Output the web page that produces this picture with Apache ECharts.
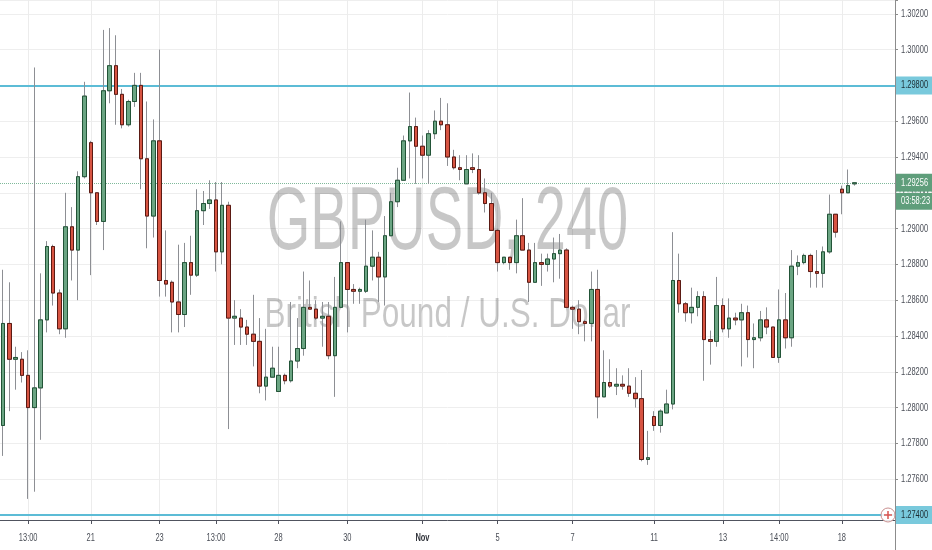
<!DOCTYPE html>
<html><head><meta charset="utf-8">
<script src="https://cdn.jsdelivr.net/npm/echarts@6/dist/echarts.min.js"></script>
<style>html,body{margin:0;padding:0;background:#fff}#c{width:932px;height:550px}</style>
</head><body><div id="c"></div>
<script>
// ---- data (GBPUSD, 4h candles) ----
const opens = [1.2790,1.2847,1.2827,1.2827,1.2818,1.2800,1.2811,1.2849,1.2890,1.2864,
1.2844,1.2901,1.2888,1.2929,1.2948,1.2920,1.2904,1.2977,1.2991,1.2975,
1.2958,1.2971,1.2980,1.2939,1.2907,1.2949,1.2871,1.2870,1.2859,1.2852,
1.2881,1.2874,1.2910,1.2914,1.2916,1.2887,1.2913,1.2850,1.2850,1.2845,
1.2841,1.2837,1.2812,1.2817,1.2809,1.2818,1.2815,1.2826,1.2833,1.2856,
1.2855,1.2850,1.2851,1.2829,1.2856,1.2881,1.2866,1.2865,1.2865,1.2879,
1.2884,1.2873,1.2896,1.2915,1.2927,1.2949,1.2957,1.2946,1.2941,1.2953,
1.2960,1.2958,1.2940,1.2934,1.2925,1.2934,1.2933,1.2920,1.2914,1.2899,
1.2881,1.2884,1.2881,1.2896,1.2888,1.2870,1.2881,1.2880,1.2883,1.2886,
1.2888,1.2856,1.2855,1.2848,1.2847,1.2866,1.2806,1.2814,1.2812,1.2813,
1.2812,1.2808,1.2805,1.2771,1.2795,1.2790,1.2797,1.2802,1.2871,1.2858,
1.2853,1.2856,1.2862,1.2838,1.2837,1.2857,1.2844,1.2850,1.2849,1.2853,
1.2838,1.2839,1.2849,1.2845,1.2828,1.2849,1.2839,1.2879,1.2881,1.2885,
1.2876,1.2875,1.2887,1.2908,1.2922,1.2920,1.2925];
const closes = [1.2847,1.2827,1.2828,1.2818,1.2800,1.2811,1.2849,1.2890,1.2864,1.2844,
1.2901,1.2888,1.2929,1.2974,1.2920,1.2904,1.2977,1.2991,1.2975,1.2958,
1.2971,1.2980,1.2939,1.2907,1.2949,1.2871,1.2869,1.2859,1.2852,1.2881,
1.2874,1.2910,1.2914,1.2916,1.2887,1.2913,1.2850,1.2851,1.2845,1.2841,
1.2837,1.2812,1.2817,1.2822,1.2818,1.2815,1.2826,1.2833,1.2856,1.2855,
1.2850,1.2851,1.2829,1.2856,1.2881,1.2866,1.2865,1.2866,1.2879,1.2884,
1.2873,1.2896,1.2915,1.2927,1.2949,1.2957,1.2946,1.2941,1.2953,1.2960,
1.2958,1.2940,1.2934,1.2933,1.2933,1.2933,1.2920,1.2914,1.2899,1.2881,
1.2884,1.2881,1.2896,1.2888,1.2870,1.2881,1.2880,1.2883,1.2886,1.2888,
1.2856,1.2855,1.2848,1.2847,1.2866,1.2806,1.2814,1.2812,1.2813,1.2812,
1.2808,1.2805,1.2771,1.2772,1.2790,1.2798,1.2802,1.2871,1.2858,1.2853,
1.2856,1.2862,1.2838,1.2837,1.2857,1.2844,1.2850,1.2849,1.2853,1.2838,
1.2839,1.2849,1.2845,1.2828,1.2849,1.2839,1.2879,1.2881,1.2885,1.2876,
1.2875,1.2887,1.2908,1.2898,1.2920,1.2924,1.29256];
const lows = [1.2773,1.2798,1.2810,1.2814,1.2749,1.2753,1.2782,1.2842,1.2857,1.2841,
1.2839,1.2871,1.2860,1.2928,1.2874,1.2902,1.2888,1.2970,1.2958,1.2956,
1.2957,1.2968,1.2922,1.2889,1.2895,1.2862,1.2862,1.2842,1.2842,1.2845,
1.2863,1.2873,1.2902,1.2911,1.2876,1.2880,1.2788,1.2835,1.2835,1.2835,
1.2823,1.2808,1.2804,1.2817,1.2809,1.2813,1.2814,1.2822,1.2829,1.2855,
1.2849,1.2834,1.2827,1.2806,1.2856,1.2842,1.2858,1.2858,1.2864,1.2871,
1.2859,1.2857,1.2896,1.2912,1.2927,1.2928,1.2925,1.2928,1.2925,1.2950,
1.2955,1.2935,1.2933,1.2927,1.2925,1.2931,1.2919,1.2909,1.2899,1.2876,
1.2880,1.2877,1.2875,1.2888,1.2859,1.2870,1.2868,1.2876,1.2870,1.2872,
1.2856,1.2844,1.2841,1.2837,1.2837,1.2794,1.2806,1.2811,1.2807,1.2810,
1.2806,1.2800,1.2770,1.2768,1.2787,1.2786,1.2797,1.2799,1.2853,1.2848,
1.2847,1.2851,1.2815,1.2824,1.2834,1.2842,1.2839,1.2846,1.2823,1.2828,
1.2822,1.2837,1.2841,1.2828,1.2825,1.2833,1.2834,1.2874,1.2880,1.2867,
1.2867,1.2867,1.2886,1.2895,1.2908,1.2920,1.2924];
const highs = [1.2877,1.2870,1.2834,1.2831,1.2832,1.2990,1.2875,1.2893,1.2891,1.2866,
1.2920,1.2912,1.2932,1.2982,1.2949,1.2920,1.3011,1.3012,1.3008,1.2978,
1.2972,1.2987,1.2987,1.2971,1.2961,1.3000,1.2899,1.2871,1.2891,1.2892,
1.2896,1.2922,1.2921,1.2927,1.2926,1.2926,1.2915,1.2860,1.2855,1.2849,
1.2863,1.2850,1.2844,1.2834,1.2834,1.2819,1.2859,1.2850,1.2876,1.2871,
1.2860,1.2859,1.2859,1.2873,1.2904,1.2881,1.2869,1.2867,1.2905,1.2899,
1.2887,1.2907,1.2920,1.2934,1.2952,1.2976,1.2962,1.2952,1.2955,1.2966,
1.2973,1.2970,1.2944,1.2941,1.2941,1.2942,1.2941,1.2928,1.2920,1.2900,
1.2884,1.2884,1.2905,1.2917,1.2892,1.2892,1.2886,1.2886,1.2895,1.2897,
1.2889,1.2857,1.2860,1.2849,1.2876,1.2877,1.2832,1.2827,1.2822,1.2818,
1.2822,1.2817,1.2821,1.2787,1.2798,1.2799,1.2810,1.2898,1.2886,1.2859,
1.2867,1.2865,1.2865,1.2843,1.2873,1.2861,1.2861,1.2853,1.2858,1.2857,
1.2847,1.2854,1.2856,1.2845,1.2866,1.2864,1.2888,1.2885,1.2886,1.2886,
1.2888,1.2890,1.2919,1.2908,1.2924,1.2933,1.29256];

const slotCount = 143;                 // visible 4h slots on the time axis
const tickIndex = [4,14,25,34,44,55,67,79,91,104,115,124,134];
const tickText  = ['13:00','21','23','13:00','28','30','Nov','5','7','11','13','14:00','18'];
const yTicks = [1.276,1.278,1.280,1.282,1.284,1.286,1.288,1.290,1.292,1.294,1.296,1.298,1.300,1.302];
const levelValues = [1.298, 1.274];
const lastPrice = 1.29256;
const countdown = '03:58:23';
const yMin = 1.27372, yMax = 1.30277;
const titleMain = 'GBPUSD, 240';
const titleSub = 'British Pound / U.S. Dollar';

// ---- build ----
const categories = Array.from({length: slotCount}, (_, i) => String(i));
const fullData = opens.map((o, i) => [o, closes[i], lows[i], highs[i]]);
const bodyData = opens.map((o, i) => [o, closes[i], Math.min(o, closes[i]), Math.max(o, closes[i])]);
const TFONT = '"Liberation Sans", Arial, sans-serif';
const LABEL = '#4a4e57';
const SQ = 0.68;                        // horizontal squeeze of the small texts
const GRID_RIGHT = 37, GRID_BOTTOM = 30;

const chart = echarts.init(document.getElementById('c'), null, {renderer: 'canvas'});

const vLines = tickIndex.map(i => ({xAxis: categories[i], lineStyle: {color: '#ececec', width: 1, type: 'solid'}}));
const levelLines = levelValues.map(v => ({yAxis: v, lineStyle: {color: '#5cbcd6', width: 2, type: 'solid'}}));
const priceLine = {yAxis: lastPrice, lineStyle: {color: '#7fb99a', width: 1, type: 'dotted'}};

chart.setOption({
  animation: false,
  backgroundColor: '#ffffff',
  grid: {left: 0, right: GRID_RIGHT, top: 0, bottom: GRID_BOTTOM, containLabel: false, outerBoundsMode: 'none'},
  xAxis: {
    type: 'category', data: categories, boundaryGap: true,
    axisLine: {show: true, lineStyle: {color: '#50535e', width: 1}},
    axisTick: {show: true, alignWithLabel: true, length: 4, interval: (i) => tickIndex.includes(i), lineStyle: {color: '#50535e'}},
    axisLabel: {show: false},
    splitLine: {show: false}
  },
  yAxis: {
    type: 'value', position: 'right', min: yMin, max: yMax, scale: true,
    splitNumber: 14, minInterval: 0.002, maxInterval: 0.002,
    axisLine: {show: true, lineStyle: {color: '#8c8c8c', width: 1}},
    axisTick: {show: true, length: 3, lineStyle: {color: '#8c8c8c'}},
    axisLabel: {show: false},
    splitLine: {show: true, lineStyle: {color: '#eeeeee', width: 1}}
  },
  series: [
    {
      name: 'wick', type: 'candlestick', data: fullData, barWidth: 4, z: 2, silent: true,
      itemStyle: {color: '#8d8f94', color0: '#8d8f94', borderColor: '#8d8f94', borderColor0: '#8d8f94', borderWidth: 1},
      markLine: {silent: true, symbol: ['none', 'none'], z: 1, precision: 5, animation: false,
        label: {show: false}, data: [...vLines, ...levelLines, priceLine]}
    },
    {
      name: 'body', type: 'candlestick', data: bodyData, barWidth: 4, z: 3, silent: true,
      itemStyle: {color: '#6ba583', color0: '#d75442', borderColor: '#225437', borderColor0: '#5b1a13', borderWidth: 1}
    }
  ]
});

// ---- texts & overlays positioned from the scales ----
const yPx = v => chart.convertToPixel({yAxisIndex: 0}, v);
const xPx = i => chart.convertToPixel({xAxisIndex: 0}, categories[i]);
const axisX = chart.getWidth() - GRID_RIGHT;
const H = chart.getHeight();
const txt = (id, s, x, y, fill, z, align, weight) => ({
  id, type: 'text', z, x, y, scaleX: SQ,
  style: {text: s, fill, font: (weight || 'normal') + ' 11px ' + TFONT, textAlign: align || 'left', verticalAlign: 'middle'}
});
const g = [];
g.push({id: 'wm1', type: 'text', z: 1, x: axisX / 2, y: 224, scaleX: 0.63,
  style: {text: titleMain, fill: 'rgba(0,0,0,0.22)', font: '89px ' + TFONT, textAlign: 'center', verticalAlign: 'middle'}});
g.push({id: 'wm2', type: 'text', z: 1, x: axisX / 2, y: 315, scaleX: 0.75,
  style: {text: titleSub, fill: 'rgba(0,0,0,0.22)', font: '42px ' + TFONT, textAlign: 'center', verticalAlign: 'middle'}});
yTicks.forEach((v, k) => g.push(txt('yl' + k, v.toFixed(5), axisX + 6, yPx(v), LABEL, 5)));
tickIndex.forEach((i, k) => g.push(txt('xl' + k, tickText[k], xPx(i), H - 12,
  tickText[k] === 'Nov' ? '#30333a' : LABEL, 5, 'center', tickText[k] === 'Nov' ? 'bold' : 'normal')));
levelValues.forEach((v, k) => {
  const y = yPx(v);
  g.push({id: 'lb' + k, type: 'rect', z: 8, shape: {x: axisX + 1, y: y - 9, width: 40, height: 18}, style: {fill: '#79c9dc'}});
  g.push(txt('lt' + k, v.toFixed(5), axisX + 6, y, '#1b2a30', 9));
});
const py = yPx(lastPrice);
g.push({id: 'pb', type: 'rect', z: 8, shape: {x: axisX + 1, y: py - 9, width: 40, height: 18}, style: {fill: '#5f9e7b'}});
g.push(txt('pt', lastPrice.toFixed(5), axisX + 6, py, '#ffffff', 9));
g.push({id: 'cdbox', type: 'rect', z: 8, shape: {x: axisX + 1, y: py + 10, width: 40, height: 17}, style: {fill: '#5f9e7b'}});
g.push({id: 'cdsep', type: 'line', z: 9, shape: {x1: axisX + 2, y1: py + 9.5, x2: axisX + 40, y2: py + 9.5}, style: {stroke: '#ffffff', lineDash: [2, 2], lineWidth: 1}});
g.push(txt('cdt', countdown, axisX + 6, py + 18.5, '#ffffff', 9));
g.push({id: 'axisext', type: 'line', z: 10, shape: {x1: axisX + 0.5, y1: H - GRID_BOTTOM, x2: axisX + 0.5, y2: H}, style: {stroke: '#8c8c8c', lineWidth: 1}});
const ly = yPx(levelValues[1]);
g.push({id: 'logoc', type: 'circle', z: 11, shape: {cx: axisX - 7, cy: ly, r: 7}, style: {fill: 'rgba(255,255,255,0.85)', stroke: '#c98f8f', lineWidth: 1}});
g.push({id: 'logoh', type: 'line', z: 12, shape: {x1: axisX - 11, y1: ly, x2: axisX - 3, y2: ly}, style: {stroke: '#d9534f', lineWidth: 1.5}});
g.push({id: 'logov', type: 'line', z: 12, shape: {x1: axisX - 7, y1: ly - 4, x2: axisX - 7, y2: ly + 4}, style: {stroke: '#d9534f', lineWidth: 1.5}});
chart.setOption({graphic: g});
</script>
</body></html>
